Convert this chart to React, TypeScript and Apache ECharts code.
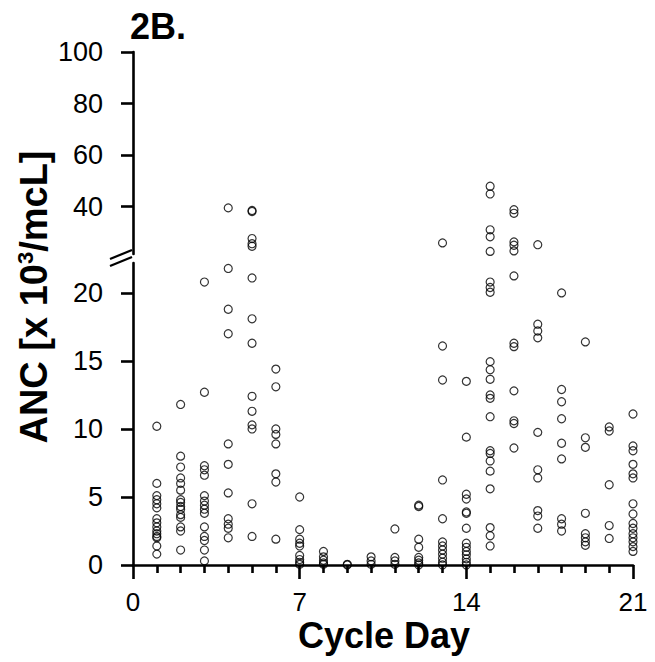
import React, { useEffect, useRef } from "react";
import * as echarts from "echarts";

// ANC values (x10^3/mcL) read for each cycle day
const day1 = [10.2, 6.0, 5.1, 4.8, 4.5, 4.2, 3.4, 3.1, 2.8, 2.5, 2.3, 2.1, 2.0, 1.4, 0.8];
const day2 = [11.8, 8.0, 7.2, 6.4, 6.0, 5.5, 4.8, 4.6, 4.3, 4.1, 3.7, 3.5, 2.8, 2.5, 1.1];
const day3 = [20.8, 12.7, 7.3, 7.0, 6.6, 5.1, 4.7, 4.4, 4.1, 3.8, 2.8, 2.1, 1.8, 1.1, 0.3];
const day4 = [39.5, 21.8, 18.8, 17.0, 8.9, 7.4, 5.3, 3.4, 3.0, 2.7, 2.0];
const day5 = [38.5, 38.1, 27.6, 25.6, 24.6, 21.1, 18.1, 16.3, 12.4, 11.3, 10.3, 10.0, 4.5, 2.1];
const day6 = [14.4, 13.1, 10.0, 9.6, 8.9, 6.7, 6.1, 1.9];
const day7 = [5.0, 2.6, 1.9, 1.6, 1.4, 0.7, 0.4, 0.2, 0.05];
const day8 = [1.0, 0.6, 0.35, 0.15, 0.05];
const day9 = [0.05, 0.0];
const day10 = [0.6, 0.3, 0.05];
const day11 = [2.65, 0.55, 0.3, 0.05];
const day12 = [4.4, 4.3, 1.9, 1.3, 0.55, 0.35, 0.15, 0.0];
const day13 = [25.9, 16.1, 13.6, 6.25, 3.4, 1.7, 1.4, 1.1, 0.8, 0.5, 0.2, 0.0];
const day14 = [13.5, 9.4, 5.2, 4.85, 3.9, 3.8, 2.7, 1.6, 1.3, 1.0, 0.75, 0.45, 0.2, 0.0];
const day15 = [47.9, 44.9, 31.0, 28.3, 22.6, 20.8, 20.4, 20.05, 14.95, 14.35, 13.65, 12.5, 12.25, 10.9, 8.4, 8.2, 7.65, 6.9, 5.6, 2.75, 2.15, 1.4];
const day16 = [38.8, 37.4, 26.3, 25.0, 22.8, 21.25, 16.3, 16.05, 12.8, 10.6, 10.4, 8.6];
const day17 = [25.2, 17.7, 17.2, 16.7, 9.75, 7.0, 6.4, 4.0, 3.6, 2.7];
const day18 = [20.0, 12.9, 12.0, 10.75, 8.95, 7.8, 3.4, 3.0, 2.5];
const day19 = [16.4, 9.35, 8.65, 3.8, 2.3, 2.0, 1.7, 1.45];
const day20 = [10.15, 9.85, 5.9, 2.9, 1.95];
const day21 = [11.1, 8.75, 8.4, 7.4, 6.7, 6.4, 4.5, 3.75, 3.05, 2.7, 2.3, 2.0, 1.7, 1.35, 1.0];

const cycleDays = [1, 2, 3, 4, 5, 6, 7, 8, 9, 10, 11, 12, 13, 14, 15, 16, 17, 18, 19, 20, 21];
const ancByDay = [day1, day2, day3, day4, day5, day6, day7, day8, day9, day10, day11, day12, day13, day14, day15, day16, day17, day18, day19, day20, day21];

const xTicks = [0, 7, 14, 21];
const lowerTicks = [0, 5, 10, 15, 20];
const upperTicks = [40, 60, 80, 100];
const lowerMax = 22.2;
const upperMin = 21.6;
const upperMax = 100;

const FONT = "'Liberation Sans', Arial, Helvetica, sans-serif";

export default function App() {
  const ref = useRef<HTMLDivElement>(null);

  useEffect(() => {
    if (!ref.current) return;
    const chart = echarts.init(ref.current, undefined, { renderer: "svg" });

    const upperPts: number[][] = [];
    const lowerPts: number[][] = [];
    cycleDays.forEach((d, i) => {
      ancByDay[i].forEach((v) => {
        if (v > lowerMax) upperPts.push([d, v]);
        else lowerPts.push([d, v]);
      });
    });

    const line = { color: "#000", width: 2.6 };
    const marker = {
      symbol: "circle",
      symbolSize: 8,
      itemStyle: { color: "rgba(0,0,0,0)", borderColor: "#000", borderWidth: 1.2 },
    };

    chart.setOption({
      animation: false,
      backgroundColor: "#fff",
      grid: [
        { left: 133, top: 52, width: 500, height: 202, containLabel: false, outerBoundsMode: "none" },
        { left: 133, top: 263, width: 500, height: 302, containLabel: false, outerBoundsMode: "none" },
      ],
      xAxis: [
        {
          gridIndex: 1,
          type: "value",
          min: 0,
          max: 21,
          interval: 7,
          offset: 12,
          axisLine: { show: true, lineStyle: line },
          axisTick: { show: true, length: 14, lineStyle: line, customValues: xTicks },
          minorTick: { show: true, splitNumber: 7, length: 8, lineStyle: line },
          axisLabel: { customValues: xTicks, fontSize: 26, lineHeight: 20, color: "#000", margin: 15, fontFamily: FONT },
          splitLine: { show: false },
          minorSplitLine: { show: false },
        },
        { gridIndex: 0, type: "value", min: 0, max: 21, show: false },
      ],
      yAxis: [
        {
          gridIndex: 0,
          type: "value",
          min: upperMin,
          max: upperMax,
          offset: 14,
          axisLine: { show: true, lineStyle: line },
          axisTick: { show: true, length: 12, lineStyle: line, customValues: upperTicks },
          axisLabel: { customValues: upperTicks, fontSize: 27, color: "#000", margin: 16, fontFamily: FONT },
          splitLine: { show: false },
        },
        {
          gridIndex: 1,
          type: "value",
          min: 0,
          max: lowerMax,
          offset: 14,
          axisLine: { show: true, lineStyle: line },
          axisTick: { show: true, length: 12, lineStyle: line, customValues: lowerTicks },
          axisLabel: { customValues: lowerTicks, fontSize: 27, color: "#000", margin: 16, fontFamily: FONT },
          splitLine: { show: false },
        },
      ],
      series: [
        { type: "scatter", xAxisIndex: 1, yAxisIndex: 0, data: upperPts, ...marker },
        { type: "scatter", xAxisIndex: 0, yAxisIndex: 1, data: lowerPts, ...marker },
      ],
      graphic: [
        {
          type: "text",
          left: 130,
          top: 8,
          style: { text: "2B.", fontSize: 36, fontWeight: "bold", fill: "#000", fontFamily: FONT },
        },
        {
          type: "text",
          x: 384,
          y: 635,
          style: {
            text: "Cycle Day",
            fontSize: 36,
            lineHeight: 24,
            fontWeight: "bold",
            fill: "#000",
            fontFamily: FONT,
            align: "center",
            verticalAlign: "middle",
          },
        },
        {
          type: "text",
          x: 34,
          y: 297,
          rotation: Math.PI / 2,
          style: {
            text: "{a|ANC [x 10}{s|3}{a|/mcL]}",
            align: "center",
            verticalAlign: "middle",
            fill: "#000",
            fontFamily: FONT,
            fontWeight: "bold",
            rich: {
              a: { fontSize: 38, fontWeight: "bold", fontFamily: FONT, fill: "#000", lineHeight: 40 },
              s: { fontSize: 22, fontWeight: "bold", fontFamily: FONT, fill: "#000", verticalAlign: "top", lineHeight: 40 },
            },
          },
        },
        { type: "line", shape: { x1: 110, y1: 259, x2: 132, y2: 250 }, style: { stroke: "#000", lineWidth: 2.2 } },
        { type: "line", shape: { x1: 110, y1: 266, x2: 132, y2: 257 }, style: { stroke: "#000", lineWidth: 2.2 } },
      ],
    });

    return () => chart.dispose();
  }, []);

  return <div ref={ref} style={{ position: "absolute", left: 0, top: 0, width: 655, height: 662 }} />;
}
